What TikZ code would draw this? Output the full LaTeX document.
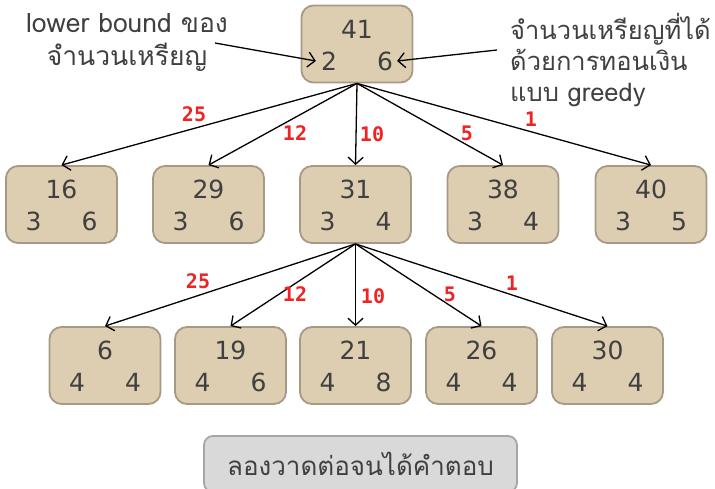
\documentclass[tikz,border=0pt]{standalone}
\usepackage{fontspec}
\setmainfont{DejaVu Sans}
\newfontfamily\thaifont[Script=Thai]{Loma}
\newfontfamily\redfont{DejaVu Sans Mono}
\usetikzlibrary{arrows.meta}
\definecolor{boxfill}{HTML}{DDCDB1}
\definecolor{boxline}{HTML}{A79A84}
\definecolor{txt}{HTML}{404040}
\definecolor{wred}{HTML}{EE2424}
\definecolor{btnfill}{HTML}{D9D9D9}
\definecolor{btnline}{HTML}{A6A6A6}
\newcommand\coinnode[6]{%
  \node[box] (#1) at (#2,#3) {};
  \node[num] (#1-t) at ([yshift=15pt]#1.center) {#4};
  \node[num] (#1-l) at ([xshift=-28pt,yshift=-17pt]#1.center) {#5};
  \node[num] (#1-r) at ([xshift=28pt,yshift=-17pt]#1.center) {#6};}
\begin{document}
\begin{tikzpicture}[x=1pt,y=-1pt,
  box/.style={draw=boxline, fill=boxfill, line width=1.8pt, rounded corners=12pt, minimum width=111pt, minimum height=77pt, inner sep=0pt},
  num/.style={text=txt, font=\fontsize{25}{25}\selectfont, inner sep=0pt},
  wt/.style={text=wred, font=\redfont\bfseries\fontsize{20}{20}\selectfont, inner sep=0pt},
  arr/.style={line width=1.3pt, -{Straight Barb[length=7pt,width=15pt,line width=1.3pt]}},
  note/.style={text=txt, font=\thaifont\fontsize{26.5}{32}\selectfont, inner sep=0pt},
  btn/.style={draw=btnline, fill=btnfill, line width=1.8pt, rounded corners=9pt, minimum width=313pt, minimum height=56pt, text=txt, font=\thaifont\fontsize{26}{26}\selectfont}]
\useasboundingbox (0,0) rectangle (715,489);
\coinnode{a}{357}{44}{41}{2}{6}
\coinnode{b1}{61.5}{204.5}{16}{3}{6}
\coinnode{b2}{208.5}{204.5}{29}{3}{6}
\coinnode{b3}{355.5}{204.5}{31}{3}{4}
\coinnode{b4}{503}{204.5}{38}{3}{4}
\coinnode{b5}{651}{204.5}{40}{3}{5}
\coinnode{c1}{105}{365.5}{6}{4}{4}
\coinnode{c2}{230.5}{365.5}{19}{4}{6}
\coinnode{c3}{355.5}{365.5}{21}{4}{8}
\coinnode{c4}{481.5}{365.5}{26}{4}{4}
\coinnode{c5}{607.5}{365.5}{30}{4}{4}
\foreach \n in {b1,b2,b3,b4,b5} \draw[arr] (a.south) -- (\n.north);
\foreach \n in {c1,c2,c3,c4,c5} \draw[arr] (b3.south) -- (\n.north);
\node[wt] (w11) at (194,114) {25};
\node[wt] (w12) at (295,133) {12};
\node[wt] (w13) at (372,134) {10};
\node[wt] (w14) at (467,133) {5};
\node[wt] (w15) at (531,119) {1};
\node[wt] (w21) at (198,281) {25};
\node[wt] (w22) at (295,294) {12};
\node[wt] (w23) at (373,296) {10};
\node[wt] (w24) at (450,294) {5};
\node[wt] (w25) at (512,283) {1};
\node[note, align=center, font=\thaifont\fontsize{26.5}{33}\selectfont] (lb) at (127,43) {lower bound ของ\\จำนวนเหรียญ};
\node[note, align=left, anchor=west, font=\thaifont\fontsize{25.5}{31}\selectfont] (gr) at (510,60) {จำนวนเหรียญที่ได้\\ด้วยการทอนเงิน\\แบบ greedy};
\coordinate (lbs) at (215,43);
\coordinate (grs) at (497,50);
\draw[arr] (lbs) -- ([xshift=-5pt]a-l.west);
\draw[arr] (grs) -- ([xshift=4pt]a-r.east);
\node[btn] (ans) at (360.5,464) {ลองวาดต่อจนได้คำตอบ};
\end{tikzpicture}
\end{document}
